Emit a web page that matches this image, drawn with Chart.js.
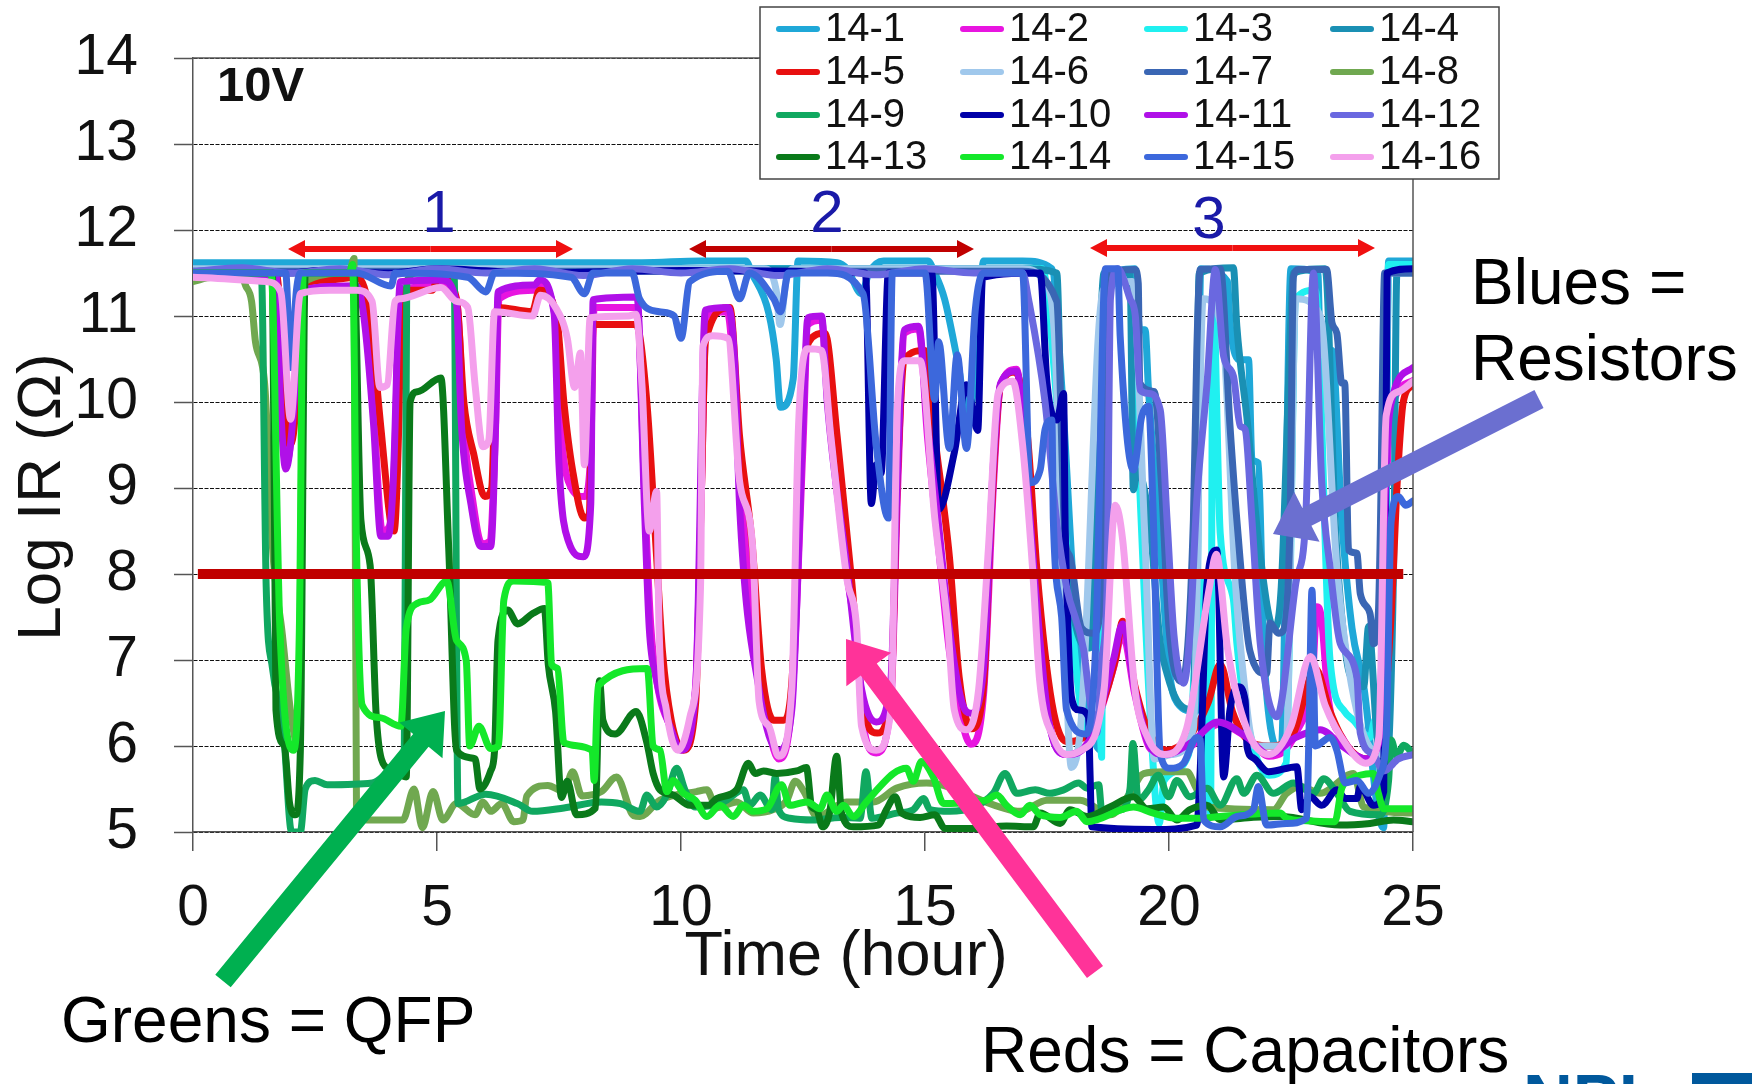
<!DOCTYPE html>
<html><head><meta charset="utf-8">
<style>html,body{margin:0;padding:0;background:#fff;overflow:hidden}#w{position:relative;width:1752px;height:1084px}</style>
<script src="https://cdn.jsdelivr.net/npm/chart.js@4/dist/chart.umd.min.js"></script>
</head><body><div id="w"><canvas id="c" width="1752" height="1084"></canvas></div>
<script>
const seriesNames=["14-1","14-2","14-3","14-4","14-5","14-6","14-7","14-8","14-9","14-10","14-11","14-12","14-13","14-14","14-15","14-16"];
const seriesColors=["#1fa8d8","#e815e0","#20f0f0","#1a90b4","#e81010","#a0c8ec","#3a66b4","#70a850","#10a860","#0000a8","#b010e8","#6a68e0","#0a7a1a","#14e82a","#3c68dc","#f4a0ec"];
const xTicks=[0,5,10,15,20,25];
const yTicks=[5,6,7,8,9,10,11,12,13,14];
const limitLine=[[0.1,8],[24.8,8]];
const s1=[[0,11.62],[9.2,11.62],[10.4,11.64],[11.33,11.64],[11.45,11.5],[11.8,11.03],[11.95,10.5],[12.04,9.94],[12.3,10.27],[12.4,11.64],[13.2,11.62],[13.4,11.55],[13.7,11.26],[13.85,11.5],[14.15,11.64],[15.06,11.64],[15.2,11.5],[15.4,11.2],[15.66,10.5],[15.9,9.8],[16.1,11],[16.2,11.64],[17,11.64],[17.6,11.55],[17.8,10.2],[18.1,7.37],[18.4,6.2],[18.6,5.95],[18.7,11.4],[19.3,11.55],[19.4,10.84],[19.51,10.84],[19.58,10.14],[19.8,8.5],[20,6.9],[20.17,6.5],[20.55,6.4],[20.65,11.55],[21.2,11.4],[21.25,10.92],[21.46,10.49],[21.63,10.49],[21.7,9.33],[21.83,9.29],[21.95,7],[22.3,5.95],[22.5,11.55],[23.05,11.5],[23.1,10.6],[23.34,10.6],[23.54,8.63],[23.75,7.37],[24,6.66],[24.28,5.24],[24.4,5.05],[24.5,11.64],[25,11.64]];
const s2=[[0,11.45],[1.7,11.45],[1.8,10.6],[1.92,9.3],[2.06,9.9],[2.2,11.3],[3.35,11.35],[3.55,10.9],[3.7,9.9],[3.88,8.5],[4.02,8.55],[4.12,9.2],[4.25,11.3],[5.1,11.35],[5.42,11.1],[5.55,9.7],[5.72,8.9],[5.92,8.35],[6.08,8.38],[6.2,9.7],[6.27,11.2],[7,11.3],[7.12,11.35],[7.42,11],[7.55,9.6],[7.75,9],[8.02,8.9],[8.15,9.4],[8.22,11.1],[9.1,11.1],[9.25,9],[9.38,7.4],[9.52,6.7],[9.8,6.2],[10,5.98],[10.3,6.7],[10.42,9],[10.52,11],[10.95,11.05],[11.12,10],[11.25,8.9],[11.6,6.9],[11.8,6.2],[12,5.85],[12.27,6.5],[12.5,9.5],[12.6,10.9],[12.88,10.95],[13,10.1],[13.4,8],[13.6,7.2],[13.72,6.3],[14,5.92],[14.3,6.5],[14.44,9],[14.58,10.8],[14.87,10.85],[15.05,9.6],[15.28,8.3],[15.5,7.1],[15.75,6.3],[15.94,6.02],[16.2,6.6],[16.4,9],[16.55,10.2],[16.88,10.38],[17.07,9.2],[17.26,7.9],[17.54,6.3],[17.9,5.9],[18.4,6.1],[18.86,6.9],[19.05,7.3],[19.3,6.6],[19.6,5.98],[19.9,5.9],[20.46,6],[21,6.25],[21.6,6.1],[22.05,5.88],[22.6,6.15],[22.95,6.9],[23.03,7.62],[23.12,7.5],[23.27,6.53],[23.55,6.1],[24.03,5.85],[24.3,6.05],[24.45,9],[24.6,10],[25,10.25]];
const s3=[[0,11.55],[17.4,11.55],[17.7,10],[18,7.5],[18.3,6.2],[18.59,6.15],[18.62,5.87],[18.7,11.3],[19.2,11.5],[19.4,9],[19.6,6.5],[19.8,5.1],[19.9,5.6],[20.4,5.9],[20.65,8],[20.85,5.2],[20.9,11.3],[21.05,8.47],[21.32,7.7],[21.39,7.2],[21.6,6.3],[22.05,5.66],[22.4,5.8],[22.6,11.2],[23,11.3],[23.3,7],[23.6,6.4],[23.78,6.3],[24.12,6.1],[24.22,6.3],[24.4,5.9],[24.5,11.6],[25,11.6]];
const s4=[[0,11.55],[17,11.55],[17.7,11.5],[17.82,9],[18.1,7.37],[18.38,7.14],[18.67,11.5],[19.2,11.5],[19.27,8.98],[19.35,9.2],[19.6,8.6],[19.82,7.2],[19.96,6.84],[20.16,6.53],[20.5,6.42],[20.62,11.5],[21.32,11.56],[21.39,10.88],[21.6,9.8],[21.85,8.3],[22.15,7.37],[22.3,7.85],[22.5,11],[22.55,11.5],[23.2,11.55],[23.4,8.67],[23.51,7.7],[23.7,6.84],[23.99,6.69],[24.09,7.39],[24.25,6.2],[24.4,5.47],[24.6,8],[24.67,11.5],[25,11.5]];
const s5=[[0,11.5],[1.7,11.5],[1.85,10.6],[1.98,9.5],[2.1,9.9],[2.2,11.35],[2.8,11.42],[3.35,11.45],[3.6,11.1],[3.85,9.7],[4.05,8.6],[4.12,8.5],[4.22,9.8],[4.27,11.3],[4.9,11.3],[5.05,11.5],[5.4,11.2],[5.55,10],[5.75,9.4],[5.98,8.9],[6.12,9],[6.24,11.1],[6.95,11.05],[7.1,11.3],[7.45,11],[7.6,10],[7.78,9.2],[8.02,8.65],[8.12,8.7],[8.2,10.9],[9.08,10.9],[9.3,10],[9.5,8.2],[9.62,7.1],[9.8,6.3],[10.05,5.95],[10.3,6.5],[10.42,9],[10.5,10.7],[11,11.1],[11.2,9.6],[11.45,8.4],[11.65,6.9],[11.9,6.3],[12.1,6.3],[12.3,7],[12.45,9.8],[12.62,10.7],[12.95,10.8],[13.2,9.6],[13.5,7.9],[13.72,6.5],[14.02,6.15],[14.3,6.6],[14.44,9.2],[14.58,10.5],[15,10.6],[15.2,9.6],[15.5,8.2],[15.7,6.8],[15.95,6.2],[16.2,6.7],[16.35,8.6],[16.55,10.2],[16.85,10.35],[17.1,9.6],[17.3,8],[17.6,6.5],[17.9,6.05],[18.4,6.2],[18.9,7],[19.05,7.45],[19.3,6.7],[19.6,6.15],[19.95,5.95],[20.4,6.1],[20.8,6.5],[21.05,6.95],[21.3,6.4],[21.65,6.05],[22.05,6],[22.55,6.15],[23,6.9],[23.3,6.4],[23.65,6],[24.05,5.85],[24.35,6.1],[24.55,7.5],[24.68,9.1],[24.8,10],[25,10.2]];
const s6=[[0,11.55],[11.7,11.55],[11.95,11.3],[12.03,10.9],[12.15,11.4],[12.3,11.55],[17,11.55],[17.45,11.4],[17.65,10.8],[17.85,7.5],[18,5.75],[18.2,6.3],[18.65,11.3],[19.25,11.4],[19.5,8.5],[19.7,5.85],[20.05,5.9],[20.5,6.2],[20.7,11.2],[21.1,10.8],[21.35,8],[21.5,6.95],[21.75,6],[22.4,6],[22.6,11.2],[23.1,11],[23.45,8],[23.85,6.4],[24.35,5.9],[24.5,11.5],[25,11.5]];
const s7=[[0,11.52],[17,11.52],[17.7,11.17],[17.87,8.4],[17.97,8.2],[18.21,7.37],[18.45,7.31],[18.59,7.58],[18.66,8.86],[18.72,11.5],[19.3,11.54],[19.37,11.38],[19.4,10.22],[19.7,10.12],[19.85,9],[20,7.37],[20.27,6.75],[20.5,8.63],[20.57,10.6],[20.64,11.54],[21.05,11.55],[21.25,9.72],[21.39,8.63],[21.66,7.1],[22,6.84],[22.07,7.43],[22.24,7.31],[22.35,7.35],[22.48,8.6],[22.55,11.46],[22.65,11.54],[23.23,11.54],[23.34,10.92],[23.44,10.8],[23.54,10.22],[23.6,10.22],[23.68,8.28],[23.85,8.24],[23.92,7.77],[24.12,7.54],[24.19,7.19],[24.29,7.54],[24.33,8.47],[24.42,11.5],[25,11.5]];
const s8=[[0,11.4],[0.4,11.45],[1,11.45],[1.08,11.35],[1.2,11.17],[1.28,10.7],[1.47,10.2],[1.63,8.3],[1.83,7.3],[2,6.4],[2.15,6],[2.28,11.4],[3.2,11.5],[3.3,11.67],[3.35,5.28],[3.55,5.14],[4.3,5.14],[4.53,5.5],[4.7,5.05],[4.92,5.47],[5.12,5.14],[5.4,5.33],[5.78,5.2],[5.94,5.35],[6.1,5.24],[6.33,5.33],[6.57,5.12],[6.76,5.14],[6.84,5.42],[7.27,5.54],[7.6,5.47],[7.78,5.7],[7.97,5.42],[8.37,5.47],[8.68,5.64],[9.03,5.19],[9.16,5.18],[9.57,5.37],[10.32,5.47],[10.53,5.49],[10.73,5.28],[11.14,5.35],[11.48,5.22],[11.89,5.26],[12.17,5.37],[12.34,5.59],[12.54,5.45],[12.78,5.18],[13.39,5.35],[13.94,5.35],[14.42,5.51],[15.03,5.57],[16.54,5.29],[16.95,5.24],[17.5,5.37],[18.18,5.37],[18.8,5.2],[19.2,5.45],[19.48,5.68],[19.89,5.7],[20.37,5.7],[20.54,5.53],[20.78,5.29],[22.14,5.26],[22.41,5.45],[22.7,5.53],[23.1,5.45],[23.78,5.68],[23.99,5.29],[25,5.22]];
const s9=[[0,11.5],[1.4,11.5],[1.5,7.85],[1.63,6.9],[1.85,6.2],[2.02,5],[2.2,5],[2.3,5.5],[2.5,5.6],[2.75,5.55],[3.67,5.57],[4,5.7],[4.2,5.8],[4.33,5.95],[4.38,11.4],[4.6,11.5],[5.35,11.5],[5.43,5.33],[6,5.44],[6.65,5.33],[6.96,5.24],[7.6,5.28],[8.37,5.35],[8.76,5.33],[9.16,5.24],[9.3,5.43],[9.5,5.29],[9.71,5.43],[9.91,5.74],[10.08,5.49],[10.29,5.29],[10.87,5.35],[11.28,5.49],[11.41,5.31],[11.62,5.43],[11.86,5.26],[11.93,5.64],[12,5.26],[12.23,5.16],[12.71,5.14],[13.26,5.17],[13.67,5.16],[13.79,5.7],[13.91,5.16],[14.42,5.22],[14.76,5.26],[14.97,5.39],[15.1,5.26],[15.51,5.24],[15.99,5.29],[16.4,5.45],[16.64,5.68],[16.88,5.45],[17.26,5.49],[17.56,5.45],[17.84,5.49],[18.15,5.57],[18.32,5.51],[18.56,5.55],[18.62,5.26],[19,5.26],[19.2,5.5],[19.26,6.03],[19.37,5.37],[19.58,5.49],[19.78,5.66],[19.99,5.41],[20.16,5.6],[20.43,5.41],[20.78,5.51],[21.05,5.31],[21.39,5.62],[21.53,5.45],[21.8,5.66],[22.14,5.45],[22.55,5.57],[22.96,5.45],[23.17,5.62],[23.44,5.45],[23.71,5.24],[24.33,5.2],[24.5,5.6],[24.55,6.07],[24.67,5.88],[24.81,6.01],[25,5.91]];
const s10=[[0,11.5],[2,11.5],[2.6,11.53],[4,11.5],[5,11.55],[7,11.5],[10,11.53],[13.78,11.5],[13.9,8.82],[14,9.27],[14.1,9.17],[14.25,11.5],[15.14,11.5],[15.28,8.75],[15.6,9.41],[15.85,10.2],[16.08,9.67],[16.18,11.45],[17.36,11.5],[17.5,10.22],[17.7,9.79],[17.84,10.1],[17.87,8.63],[17.9,7.89],[18,6.57],[18.15,6.42],[18.35,6.34],[18.38,5.72],[18.42,5.06],[19.68,5.03],[20.57,5.08],[20.64,5.72],[20.67,6.19],[20.78,7.89],[20.98,8.28],[21.12,5.64],[21.25,6.42],[21.42,6.69],[21.56,6.53],[21.6,5.99],[21.73,5.86],[22.04,5.7],[22.62,5.76],[22.72,5.26],[22.89,5.41],[23.13,5.31],[23.44,5.49],[23.61,5.39],[23.85,5.39],[23.92,5.53],[24.19,5.31],[24.4,5.47],[24.47,11.5],[25,11.55]];
const s11=[[0,11.48],[1.7,11.48],[1.8,9.9],[1.9,9.22],[2.06,9.9],[2.2,11.3],[3.35,11.35],[3.5,11],[3.7,9.74],[3.85,8.44],[4,8.44],[4.1,9.03],[4.25,11.4],[5.1,11.42],[5.4,11.15],[5.5,9.74],[5.7,8.8],[5.9,8.32],[6.1,8.32],[6.2,9.75],[6.25,11.28],[7,11.36],[7.1,11.42],[7.4,11.03],[7.5,9.27],[7.7,8.37],[8,8.2],[8.15,8.8],[8.2,11.19],[9.1,11.22],[9.25,8.8],[9.35,7.37],[9.5,6.76],[9.8,6.19],[10,5.95],[10.3,6.66],[10.5,11.07],[10.96,11.1],[11.1,10.46],[11.2,8.8],[11.6,6.66],[12,5.95],[12.27,6.42],[12.5,9.75],[12.6,10.98],[12.88,11],[13,9.98],[13.4,8.08],[13.7,6.66],[14,6.28],[14.3,6.76],[14.44,9.27],[14.58,10.84],[14.87,10.88],[15.05,9.75],[15.28,8.56],[15.5,7.37],[15.75,6.52],[15.94,6.38],[16.2,6.9],[16.4,9.27],[16.55,10.22],[16.88,10.36],[17.07,9.27],[17.26,7.85],[17.54,6.28],[17.9,5.9],[18.4,6.1],[18.86,7],[19.05,7.42],[19.3,6.66],[19.6,6],[19.9,5.9],[20.46,6.04],[21,6.28],[21.6,6.1],[22.05,5.9],[22.6,6.1],[23.1,6.19],[23.55,6],[24.03,5.85],[24.3,6.04],[24.45,9.27],[24.6,10.1],[25,10.4]];
const s12=[[0,11.52],[1,11.56],[2,11.5],[3,11.55],[4,11.48],[5,11.55],[6,11.5],[7,11.55],[8,11.47],[9,11.55],[10,11.5],[11,11.55],[12,11.47],[13,11.55],[14,11.48],[15,11.55],[16,11.5],[17,11.5],[17.12,11.2],[17.46,10],[17.7,8.6],[17.9,7.85],[18.25,7.12],[18.38,6.53],[18.52,6.15],[18.62,7],[18.73,7.81],[18.8,11.2],[18.95,11.55],[19.2,11.2],[19.31,11],[19.41,10.14],[19.58,10.1],[19.82,9.91],[19.96,8.63],[20.1,7.3],[20.3,6.73],[20.43,7.31],[20.57,8.86],[20.78,10.22],[20.95,11.54],[21.12,10.53],[21.32,10.3],[21.46,9.72],[21.56,9.68],[21.7,8.63],[21.87,7.19],[22.21,6.34],[22.6,7.9],[22.8,8.63],[22.96,11.5],[23.13,9.06],[23.3,8.08],[23.51,7.19],[23.85,6.8],[23.92,6.15],[24.19,5.9],[24.4,5.71],[24.7,5.85],[25,5.9]];
const s13=[[0,11.5],[1.55,11.5],[1.63,11.5],[1.7,6.42],[1.87,6],[1.98,5.33],[2.1,5.2],[2.2,5.95],[2.3,11.5],[3.3,11.5],[3.44,8.63],[3.63,8.1],[3.75,6.4],[3.86,5.85],[4.05,5.73],[4.37,5.64],[4.45,10],[4.6,10.12],[5.08,10.28],[5.24,8.3],[5.4,5.95],[5.78,5.85],[5.88,5.5],[6.1,5.71],[6.18,5.95],[6.25,7.23],[6.45,7.58],[6.65,7.42],[6.96,7.54],[7.2,7.6],[7.28,6.95],[7.43,6.4],[7.55,5.4],[7.67,5.59],[7.86,5.2],[8.25,5.28],[8.33,6.76],[8.4,6.3],[8.65,6.14],[9.08,6.4],[9.3,6.04],[9.43,5.68],[9.57,5.49],[9.84,5.43],[10.18,5.31],[10.56,5.31],[10.73,5.39],[11.14,5.49],[11.38,5.8],[11.52,5.68],[11.69,5.71],[11.96,5.68],[12.37,5.71],[12.57,5.75],[12.68,5.29],[12.78,5.26],[12.9,5.06],[13.05,5.24],[13.19,5.88],[13.29,5.22],[13.53,5.06],[14.04,5.08],[14.21,5.26],[14.39,5.41],[14.52,5.22],[14.9,5.17],[15.2,5.2],[15.41,5.04],[15.99,5.04],[16.67,5.07],[17.22,5.06],[17.36,5.22],[17.77,5.1],[17.97,5.26],[18.32,5.18],[18.79,5.29],[19.27,5.41],[19.55,5.27],[19.89,5.29],[20.16,5.14],[20.43,5.26],[20.78,5.31],[21.05,5.14],[21.73,5.17],[22.28,5.18],[23.51,5.08],[24.12,5.1],[24.6,5.14],[25,5.12]];
const s14=[[0,11.5],[1.6,11.5],[1.78,7.37],[2.06,5.95],[2.18,7.37],[2.26,11.5],[3.2,11.5],[3.27,11.6],[3.35,8.3],[3.47,6.47],[3.83,6.33],[4.26,6.23],[4.37,7.37],[4.6,7.66],[4.85,7.7],[5.2,7.92],[5.4,7.23],[5.6,6.99],[5.67,6],[5.86,6.23],[6.1,5.97],[6.26,6],[6.37,7.7],[6.57,7.92],[7.27,7.9],[7.35,6.95],[7.47,6.9],[7.6,6.04],[8.18,5.95],[8.22,5.6],[8.3,6.7],[9.31,6.9],[9.43,6],[9.57,5.95],[9.71,5.47],[9.84,5.6],[10.05,5.45],[10.29,5.37],[10.53,5.18],[10.8,5.31],[11.07,5.18],[11.28,5.31],[11.48,5.24],[11.76,5.27],[12.06,5.55],[12.23,5.31],[12.58,5.35],[12.85,5.27],[12.99,5.43],[13.19,5.24],[13.33,5.31],[13.53,5.18],[13.8,5.35],[14.08,5.53],[14.35,5.68],[14.62,5.74],[14.76,5.59],[14.93,5.82],[15.17,5.64],[15.38,5.33],[16.26,5.37],[16.47,5.43],[16.67,5.31],[16.95,5.2],[17.15,5.31],[17.36,5.2],[17.77,5.17],[18.11,5.24],[18.32,5.12],[19.27,5.29],[19.68,5.22],[20.16,5.16],[20.64,5.16],[21.05,5.18],[22.28,5.22],[22.41,5.16],[22.82,5.13],[23.4,5.12],[23.54,5.51],[23.68,5.6],[24.19,5.68],[24.29,5.45],[24.4,5.27],[25,5.27]];
const s15=[[0,11.5],[1.9,11.5],[2,10.4],[2.12,11.3],[2.2,11.5],[3.35,11.5],[4.06,11.35],[4.14,11.5],[5.63,11.45],[6,11.28],[6.18,11.5],[7.75,11.45],[8.02,11.26],[8.2,11.5],[9,11.5],[9.15,11.2],[9.55,11.05],[9.86,11],[10,10.74],[10.18,11.4],[10.96,11.52],[11.2,11.2],[11.4,11.5],[11.9,11.2],[12.04,11.05],[12.2,11.5],[13,11.5],[13.73,11.26],[14,9.5],[14.25,8.65],[14.33,11.5],[15,11.5],[15.2,10.03],[15.28,10.7],[15.5,9.46],[15.66,10.55],[15.85,9.46],[16.03,11.07],[16.2,11.5],[17,11.5],[17.15,9.06],[17.36,9.21],[17.46,9.68],[17.6,9.79],[17.63,8.63],[17.8,7.5],[17.9,6.42],[18.3,6.14],[18.5,7.2],[18.7,11.55],[18.95,11.55],[19,10.76],[19.27,9.21],[19.44,9.83],[19.58,9.95],[19.68,8.63],[19.82,5.91],[20.02,5.74],[20.3,5.8],[20.57,6.1],[20.64,6.07],[20.71,5.14],[21.05,5.06],[21.39,5.18],[21.73,5.26],[21.83,5.53],[22,5.08],[22.41,5.1],[22.82,5.16],[22.87,6.2],[22.93,7.81],[23,6],[23.3,6.1],[23.44,5.95],[23.61,5.57],[23.85,5.6],[24.09,5.45],[24.33,5.68],[24.45,6.1],[24.55,8.6],[24.7,8.9],[24.85,8.8],[25,8.85]];
const s16=[[0,11.45],[1.5,11.4],[1.8,11.28],[2,9.8],[2.2,11.26],[2.8,11.3],[3.35,11.3],[3.67,11.17],[3.83,10.17],[3.98,10.2],[4.14,11.17],[4.26,11.2],[5.08,11.33],[5.4,11.17],[5.63,11.1],[5.78,10.2],[5.94,9.48],[6.06,9.55],[6.18,11.05],[6.96,11],[7.12,11.24],[7.43,11.1],[7.67,10.74],[7.82,10.17],[7.94,10.57],[8.02,9.27],[8.14,10.98],[8.92,11],[9.08,11.02],[9.2,10.2],[9.35,8.5],[9.5,8.96],[9.55,7.37],[9.7,6.42],[9.94,5.95],[10.18,6.33],[10.4,7.85],[10.45,10.65],[10.65,10.77],[10.96,10.74],[11.2,9.08],[11.47,8.3],[11.6,6.52],[11.8,6.23],[12,5.88],[12.27,6.66],[12.41,9.74],[12.6,10.62],[12.88,10.6],[13.07,9.6],[13.4,7.94],[13.6,7.37],[13.7,6.23],[14,5.95],[14.3,6.42],[14.44,10],[14.58,10.48],[14.9,10.48],[15.2,8.65],[15.47,7.37],[15.6,6.42],[15.85,6.19],[16.1,6.66],[16.3,8.3],[16.5,10.1],[16.8,10.24],[17,9.5],[17.2,8.1],[17.35,6.76],[17.63,6.1],[17.9,5.9],[18.2,5.95],[18.67,6.66],[18.9,8.8],[19.05,8.4],[19.3,6.66],[19.56,6.1],[19.9,5.9],[20.36,6.2],[20.83,7.85],[20.97,8.23],[21.2,7.13],[21.6,6.19],[22.05,5.9],[22.5,6.23],[22.9,7.04],[23.2,6.47],[23.65,6],[24.03,5.8],[24.3,6.1],[24.45,9.84],[24.7,10.12],[25,10.24]];
const seriesData=[s1,s2,s3,s4,s5,s6,s7,s8,s9,s10,s11,s12,s13,s14,s15,s16];

const FONT='"Liberation Sans", Arial, sans-serif';
function arrow(ctx,x0,y0,x1,y1,w,hl,hw,col){
  const a=Math.atan2(y1-y0,x1-x0),c=Math.cos(a),s=Math.sin(a);
  const bx=x1-c*hl,by=y1-s*hl;
  ctx.fillStyle=col;ctx.beginPath();
  ctx.moveTo(x0-s*w/2,y0+c*w/2);ctx.lineTo(bx-s*w/2,by+c*w/2);ctx.lineTo(bx-s*hw/2,by+c*hw/2);
  ctx.lineTo(x1,y1);ctx.lineTo(bx+s*hw/2,by-c*hw/2);ctx.lineTo(bx+s*w/2,by-c*w/2);ctx.lineTo(x0+s*w/2,y0-c*w/2);
  ctx.closePath();ctx.fill();
}
function dbl(ctx,x0,x1,y,col){const m=(x0+x1)/2;arrow(ctx,m,y,x0,y,6,17,18,col);arrow(ctx,m,y,x1,y,6,17,18,col);}
function text(ctx,t,x,y,font,col,align,base){ctx.font=font;ctx.fillStyle=col;ctx.textAlign=align||'left';ctx.textBaseline=base||'alphabetic';ctx.fillText(t,x,y);}

const overlay={id:'overlay',
  afterDatasetsDraw(chart){
    const ctx=chart.ctx,a=chart.chartArea;
    ctx.save();
    ctx.strokeStyle='#555';ctx.lineWidth=1.5;ctx.beginPath();ctx.moveTo(a.left,a.top);ctx.lineTo(a.right,a.top);ctx.lineTo(a.right,a.bottom);ctx.stroke();
    text(ctx,'10V',217,101,'bold 49px '+FONT,'#111');
    text(ctx,'1',439,232,'60px '+FONT,'#1a1aa8','center');
    text(ctx,'2',827,232,'60px '+FONT,'#1a1aa8','center');
    text(ctx,'3',1209,238,'60px '+FONT,'#1a1aa8','center');
    dbl(ctx,288,573,249,'#f01010');dbl(ctx,689,974,249,'#c00000');dbl(ctx,1090,1375,248,'#f01010');
    arrow(ctx,223,981,445,711,20,38,56,'#00b050');
    arrow(ctx,1095,972,846,639,20,38,56,'#ff3399');
    arrow(ctx,1539,399,1273,534,20,38,56,'#6b6fd0');
    ctx.save();ctx.translate(43,497);ctx.rotate(-Math.PI/2);text(ctx,'Log IR (Ω)',0,0,'62px '+FONT,'#111','center','middle');ctx.restore();
    text(ctx,'Time (hour)',846,975,'63px '+FONT,'#111','center');
    text(ctx,'Blues =',1471,304,'64px '+FONT,'#000');
    text(ctx,'Resistors',1471,380,'64px '+FONT,'#000');
    text(ctx,'Greens = QFP',61,1042,'64px '+FONT,'#000');
    text(ctx,'Reds = Capacitors',981,1072,'64px '+FONT,'#000');
    text(ctx,'NPL',1523,1122,'bold 69px '+FONT,'#00589c');
    ctx.fillStyle='#00589c';ctx.fillRect(1692,1073,60,11);
    ctx.fillStyle='#fff';ctx.strokeStyle='#444';ctx.lineWidth=1.5;ctx.fillRect(760,7,739,172);ctx.strokeRect(760,7,739,172);
    const cols=[776,960,1144,1330],rows=[29,72,115,157];
    seriesNames.forEach((n,i)=>{
      const x=cols[i%4],y=rows[Math.floor(i/4)];
      ctx.strokeStyle=seriesColors[i];ctx.lineWidth=6;ctx.lineCap='round';
      ctx.beginPath();ctx.moveTo(x+3,y);ctx.lineTo(x+41,y);ctx.stroke();
      text(ctx,n,x+49,y+1,'40px '+FONT,'#111','left','middle');
    });
    ctx.restore();
  }
};
const datasets=seriesNames.map((n,i)=>({label:n,data:seriesData[i].map(p=>({x:p[0],y:p[1]})),borderColor:seriesColors[i],backgroundColor:seriesColors[i],
  borderWidth:7,pointRadius:0,cubicInterpolationMode:'monotone',borderJoinStyle:'round',borderCapStyle:'round',order:20-i}));
datasets.push({label:'8',data:limitLine.map(p=>({x:p[0],y:p[1]})),borderColor:'#c00000',backgroundColor:'#c00000',borderWidth:10,pointRadius:0,order:0});
new Chart(document.getElementById('c'),{type:'line',data:{datasets},plugins:[overlay,{id:'bg',beforeDraw(c){c.ctx.fillStyle='#fff';c.ctx.fillRect(0,0,1752,1084);}}],
 options:{responsive:false,animation:false,parsing:false,normalized:true,
  layout:{padding:{left:0,top:58,right:339,bottom:152}},
  plugins:{legend:{display:false},tooltip:{enabled:false}},
  scales:{
   x:{type:'linear',min:0,max:25,afterBuildTicks(s){s.ticks=xTicks.map(v=>({value:v}));},afterFit(s){s.height=100;s.paddingLeft=0;s.paddingRight=0;},
      grid:{drawOnChartArea:false,drawTicks:true,tickLength:19,tickColor:'#555',lineWidth:1.5},border:{color:'#555',width:1.5},
      ticks:{font:{family:'Liberation Sans',size:57},color:'#111',padding:24,maxRotation:0,autoSkip:false}},
   y:{type:'linear',min:5,max:14,afterBuildTicks(s){s.ticks=yTicks.map(v=>({value:v}));},afterFit(s){s.width=193;s.paddingTop=0;s.paddingBottom=0;},
      grid:{color:'#111',lineWidth:1,tickColor:'#555',tickLength:19,tickBorderDash:[],tickWidth:1.5},border:{color:'#555',width:1.5,dash:[4,1.5]},
      ticks:{font:{family:'Liberation Sans',size:57},color:'#111',padding:36,autoSkip:false}}
  }}});
</script></body></html>
